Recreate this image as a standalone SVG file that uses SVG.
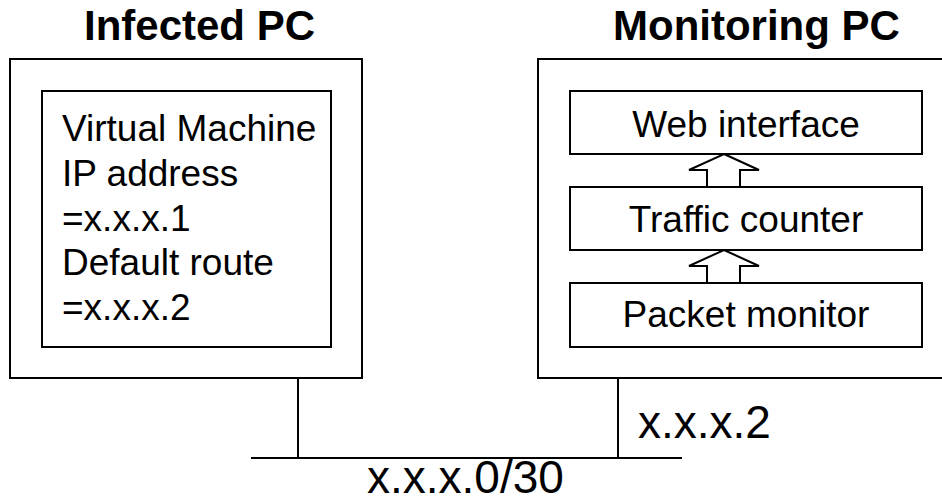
<svg xmlns="http://www.w3.org/2000/svg" width="942" height="504" viewBox="0 0 942 504">
  <style>
    .box { fill: #fff; stroke: #000; stroke-width: 2; }
    .wire { fill: none; stroke: #000; stroke-width: 2; }
    .up { fill: #fff; stroke: #000; stroke-width: 2; stroke-linejoin: miter; }
    .title { font-family: "Liberation Sans", Arial, sans-serif; font-weight: bold; font-size: 42px; fill: #000; }
    .label { font-family: "Liberation Sans", Arial, sans-serif; font-size: 37px; fill: #000; }
    .addr { font-family: "Liberation Sans", Arial, sans-serif; font-size: 46px; fill: #000; }
  </style>

  <!-- network cabling -->
  <g id="connectors">
    <line class="wire" x1="298" y1="347" x2="298" y2="458"/>
    <line class="wire" x1="618" y1="378" x2="618" y2="458"/>
    <line class="wire" x1="251" y1="458" x2="682" y2="458"/>
  </g>

  <g id="infected-pc">
    <text class="title" x="84" y="40">Infected PC</text>
    <rect class="box" x="10" y="59" width="352" height="319"/>
  </g>

  <g id="virtual-machine">
    <rect class="box" x="42" y="91" width="289" height="256"/>
    <text class="label" x="62">
      <tspan x="62" y="141">Virtual Machine</tspan>
      <tspan x="62" y="186">IP address</tspan>
      <tspan x="62" y="231">=x.x.x.1</tspan>
      <tspan x="62" y="275">Default route</tspan>
      <tspan x="62" y="320">=x.x.x.2</tspan>
    </text>
  </g>

  <g id="monitoring-pc">
    <text class="title" x="613" y="40">Monitoring PC</text>
    <rect class="box" x="538" y="59" width="420" height="319"/>
  </g>

  <g id="web-interface">
    <rect class="box" x="570" y="91" width="352" height="63"/>
    <text class="label" x="746" y="137" text-anchor="middle">Web interface</text>
  </g>

  <g id="traffic-counter">
    <rect class="box" x="570" y="187" width="352" height="63"/>
    <text class="label" x="746" y="232" text-anchor="middle">Traffic counter</text>
  </g>

  <g id="packet-monitor">
    <rect class="box" x="570" y="283" width="352" height="64"/>
    <text class="label" x="746" y="327" text-anchor="middle">Packet monitor</text>
  </g>

  <!-- data flow arrows between layers -->
  <g id="flow-arrows">
    <polygon class="up" points="724,154 759,170 740,170 740,187 707,187 707,170 689,170"/>
    <polygon class="up" points="724,250 759,266 740,266 740,283 707,283 707,266 689,266"/>
  </g>

  <g id="addresses">
    <text class="addr" x="638" y="438">x.x.x.2</text>
    <text class="addr" x="367" y="493">x.x.x.0/30</text>
  </g>
</svg>
